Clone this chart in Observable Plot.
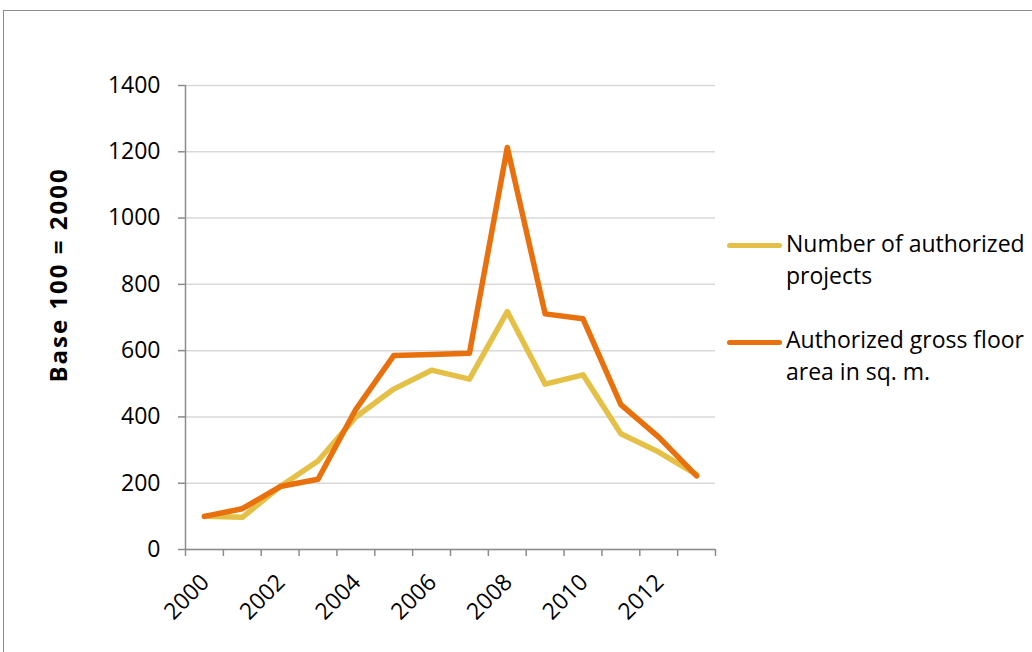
<!DOCTYPE html>
<html>
<head>
<meta charset="utf-8">
<script src="https://cdn.jsdelivr.net/npm/d3@7"></script>
<script src="https://cdn.jsdelivr.net/npm/@observablehq/plot@0.6"></script>
<style>
  html, body { margin: 0; padding: 0; background: #fff; }
  #wrap { position: relative; width: 1032px; height: 652px; overflow: hidden; font-family: "Open Sans", Lato, sans-serif; }
  #frame { position: absolute; left: 3px; top: 10px; width: 1100px; height: 700px; border: 1px solid #8c8c8c; box-sizing: border-box; }
  #chart { position: absolute; left: 0; top: 0; }
  #ytitle { position: absolute; left: -92px; top: 261px; width: 300px; text-align: center; font-weight: bold; font-size: 24px; letter-spacing: 2px; line-height: 28px; transform: rotate(-90deg); color: #000; white-space: nowrap; }
  .lg { position: absolute; left: 786px; font-size: 23px; line-height: 32px; color: #000; white-space: nowrap; }
  .sw { position: absolute; left: 727px; width: 55px; height: 5px; border-radius: 3px; }
</style>
</head>
<body>
<div id="wrap">
  <div id="frame"></div>
  <div id="chart"></div>
  <div id="ytitle">Base 100 = 2000</div>
</div>
<script>
const years = [2000, 2001, 2002, 2003, 2004, 2005, 2006, 2007, 2008, 2009, 2010, 2011, 2012, 2013];
const projects = [100, 97, 190, 267, 400, 484, 541, 514, 718, 499, 527, 349, 294, 226];
const floorArea = [100, 123, 190, 212, 423, 585, 588, 592, 1213, 711, 696, 437, 339, 222];
const seriesNames = ["Number of authorized projects", "Authorized gross floor area in sq. m."];
const legendLines = [["Number of authorized", "projects"], ["Authorized gross floor", "area in sq. m."]];
const seriesColors = ["#E5C047", "#E8710E"];
const yTicks = [0, 200, 400, 600, 800, 1000, 1200, 1400];
const xLabelYears = [2000, 2002, 2004, 2006, 2008, 2010, 2012];

const rows = [];
years.forEach((yr, i) => {
  rows.push({year: yr, value: projects[i], series: seriesNames[0]});
  rows.push({year: yr, value: floorArea[i], series: seriesNames[1]});
});
const boundaries = years.map(y => y - 0.5).concat([years[years.length - 1] + 0.5]);
const axisColor = "#8c8c8c";

const chart = Plot.plot({
  width: 1032,
  height: 652,
  marginLeft: 185,
  marginRight: 317,
  marginTop: 85,
  marginBottom: 103,
  style: {fontFamily: "'Open Sans', Lato, sans-serif", fontSize: "23px", color: "#000", background: "transparent"},
  x: {domain: [years[0] - 0.5, years[years.length - 1] + 0.5]},
  y: {domain: [0, 1400]},
  color: {domain: seriesNames, range: seriesColors},
  marks: [
    Plot.gridY(yTicks, {stroke: "#d9d9d9", strokeOpacity: 1, strokeWidth: 1.5}),
    Plot.axisY(yTicks, {tickSize: 7, tickPadding: 18, stroke: axisColor, strokeWidth: 1.5, fill: "#000", label: null, fontSize: 23, tickFormat: d => String(d)}),
    Plot.axisX(boundaries, {tickSize: 7, tickFormat: () => "", stroke: axisColor, strokeWidth: 1.5, label: null}),
    Plot.axisX(xLabelYears, {tickSize: 0, tickRotate: -45, tickPadding: 14, dx: 1, dy: 15, tickFormat: d => String(d), fill: "#000", label: null, fontSize: 23}),
    Plot.ruleX([years[0] - 0.5], {stroke: axisColor, strokeWidth: 1.5}),
    Plot.ruleY([0], {stroke: axisColor, strokeWidth: 1.5}),
    Plot.line(rows, {x: "year", y: "value", stroke: "series", z: "series", strokeWidth: 5.5, strokeLinejoin: "round", strokeLinecap: "round"})
  ]
});
document.getElementById("chart").appendChild(chart);

// legend
const wrap = document.getElementById("wrap");
const legendTops = [227, 323];
const swatchTops = [242.5, 339.5];
legendLines.forEach((lines, i) => {
  const sw = document.createElement("div");
  sw.className = "sw";
  sw.style.top = swatchTops[i] + "px";
  sw.style.background = seriesColors[i];
  wrap.appendChild(sw);
  const t = document.createElement("div");
  t.className = "lg";
  t.style.top = legendTops[i] + "px";
  t.innerHTML = lines.join("<br>");
  wrap.appendChild(t);
});
</script>
</body>
</html>
